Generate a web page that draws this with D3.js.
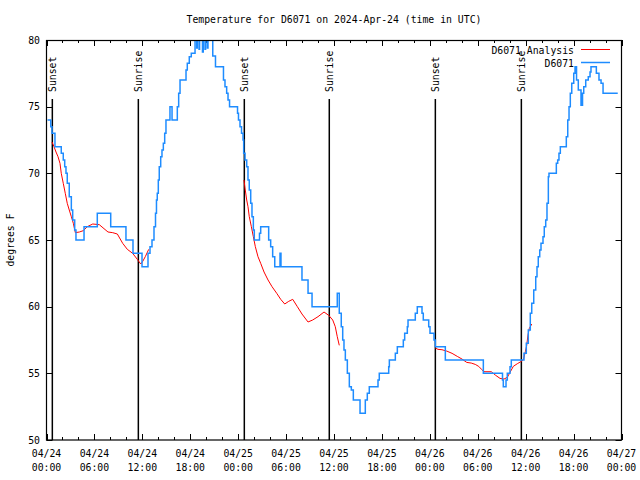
<!DOCTYPE html>
<html><head><meta charset="utf-8">
<script src="https://cdn.jsdelivr.net/npm/d3@7"></script>
<style>
html,body{margin:0;padding:0;background:#fff;}
text{font-family:"DejaVu Sans Mono",monospace;font-size:9.8px;fill:#000;}
</style></head>
<body><svg id="c" width="640" height="480"></svg>
<script>
// hours since 2024-04-24 00:00 UTC
const obsHours = [0.13,0.53,0.69,1.06,1.85,2.10,2.28,2.44,2.60,2.85,3.11,3.28,3.53,3.69,4.70,6.36,8.04,9.95,10.83,11.96,12.71,12.96,13.21,13.46,13.65,13.77,13.87,14.00,14.12,14.30,14.46,14.63,14.80,14.96,15.46,15.72,16.38,16.55,16.72,17.47,17.63,17.88,18.13,18.60,18.81,18.88,19.10,19.17,19.53,19.63,19.85,19.92,20.14,20.22,20.82,21.16,22.16,22.35,22.56,22.73,22.92,23.92,24.04,24.23,24.42,24.61,24.69,24.86,25.07,25.23,25.39,25.57,25.73,25.90,26.02,26.67,26.82,27.82,28.07,28.32,28.58,29.24,29.36,31.99,32.75,33.25,36.41,36.66,36.91,37.09,37.25,37.42,37.67,37.92,38.17,38.42,39.26,39.92,40.17,40.42,41.51,41.67,42.85,42.93,43.68,43.93,44.68,44.85,45.18,45.27,46.18,46.43,47.02,47.18,47.86,48.02,48.52,48.69,49.94,54.70,57.10,57.20,57.54,57.70,58.04,58.20,59.79,60.08,60.33,60.58,60.76,61.01,61.26,61.42,61.58,61.76,61.92,62.17,62.33,62.51,62.67,62.84,62.92,63.84,64.01,64.17,64.34,65.09,65.27,65.43,65.59,65.77,66.02,66.18,66.37,66.59,66.93,67.12,67.27,67.52,67.84,68.06,68.18,68.85,69.18,69.44,69.69,71.53];
const obsTemps = [74,73.5,73,72,71.5,71,70.5,70,69.25,68.25,67.25,66.5,65.75,65,66,67,66,65,64,63,64,64.5,65,66,67,68,68.5,69.5,70.5,71.25,71.75,72.25,73,74,75,74,75,76,77,77.75,78.25,78.75,79,81,79.4,81,79.3,81,79.1,81,79.3,81,79.4,81,78.8,78,77,76.5,76,75.5,75,74.5,74,73.5,73,72.5,71.5,71,70.5,69.5,68.75,67.75,66.75,65.75,65,65.5,66,65,64.5,63.75,63,64,63,62,61,60,61,59.5,58.5,57.5,56.75,56,55,54,53.75,53,52,53,53.5,54,54.5,55,55.5,56,56.5,57,57.5,58,58.5,59,59.5,60,59.5,59,58.5,58,57.5,57,56,55,54.5,54,54.5,55,55.5,56,56.5,57.25,58.25,59.5,60.25,61.25,62.25,63,63.75,64.25,64.75,65.25,66,66.5,67.75,69.75,70,70.75,71,71.5,72,72.75,74,75,76,76.75,77.5,78,77,76.25,75.1,76,76.5,77,77.25,77.6,78,77.5,77,76.75,76,76];

// analysis series, null separates segments
const anaHours = [0.69,0.94,1.19,1.44,1.69,1.85,2.10,2.35,2.60,2.85,3.11,3.36,3.61,4.11,4.61,5.11,5.79,6.61,7.20,7.70,8.29,8.87,9.54,10.12,10.79,11.37,11.80,12.05,12.37,12.80,null,
 24.73,24.89,25.07,25.23,25.39,25.65,25.90,26.15,26.48,26.82,27.24,27.74,28.24,28.83,29.33,29.83,30.33,30.83,31.41,31.99,32.75,33.33,34.00,34.75,35.34,35.84,36.16,36.41,36.66,null,
 48.69,49.02,49.52,50.11,50.78,51.44,52.03,52.62,53.19,53.69,54.12,54.53,54.78,55.70,56.20,56.79,57.29,57.70,58.04,58.45,58.95,59.38,59.71,59.96,60.13,60.29,60.46,60.76];
const anaTemps = [72.35,72,71.6,71.25,70.75,70,69.25,68.5,67.75,67.25,66.75,66.25,65.55,65.6,65.7,66.0,66.2,66.15,65.85,65.6,65.55,65.45,64.75,64.3,64.0,63.55,63.2,63.4,63.75,64.3,null,
 69.5,68.75,68,67.5,66.75,66,65.25,64.5,63.75,63.25,62.6,62,61.5,61,60.55,60.2,60.4,60.55,60,59.45,58.85,59.0,59.25,59.6,59.35,59,58.5,57.75,57.1,null,
 56.9,56.8,56.77,56.67,56.5,56.27,56.07,55.82,55.77,55.67,55.52,55.27,55.12,55.12,54.87,54.62,54.57,54.7,55.07,55.52,55.72,55.87,56.02,56.62,57.1,57.87,58.37,58.7];

const eventHours = [0.73,11.50,24.77,35.41,48.69,59.46];
const eventLabels = ["Sunset","Sunrise","Sunset","Sunrise","Sunset","Sunrise"];
const yTicks = [50,55,60,65,70,75,80];
const titleText = "Temperature for D6071 on 2024-Apr-24 (time in UTC)";
const yLabel = "degrees F";
const legendNames = ["D6071 Analysis","D6071"];
const colors = {ana:"#ff0000", obs:"#1e8cff"};

const t0 = Date.UTC(2024,3,24);
const toDate = h => new Date(t0 + h*3600000);
const L=46.5, R=621.5, T=40, B=440;
const svg = d3.select("#c");
const x = d3.scaleUtc().domain([toDate(0), toDate(72)]).range([L,R]);
const y = d3.scaleLinear().domain([50,80]).range([B,T]);

svg.append("defs").append("clipPath").attr("id","clip")
  .append("rect").attr("x",L).attr("y",T).attr("width",R-L).attr("height",B-T);

// ticks
const major = d3.utcHour.every(6).range(toDate(0), toDate(72.01));
const minor = d3.utcHour.every(2).range(toDate(0), toDate(72.01));
const g = svg.append("g").attr("stroke","#000").attr("stroke-width",1);
minor.forEach(d=>{
  const px = Math.round(x(d))+0.5;
  g.append("line").attr("x1",px).attr("x2",px).attr("y1",B).attr("y2",B-3);
  g.append("line").attr("x1",px).attr("x2",px).attr("y1",T).attr("y2",T+3);
});
major.forEach(d=>{
  const px = Math.round(x(d))+0.5;
  g.append("line").attr("x1",px).attr("x2",px).attr("y1",B).attr("y2",B-6);
  g.append("line").attr("x1",px).attr("x2",px).attr("y1",T).attr("y2",T+6);
});
yTicks.forEach(v=>{
  const py = Math.round(y(v))+0.5;
  g.append("line").attr("x1",L).attr("x2",L+6).attr("y1",py).attr("y2",py);
  g.append("line").attr("x1",R).attr("x2",R-6).attr("y1",py).attr("y2",py);
});

// tick labels
const fmtD = d3.utcFormat("%m/%d"), fmtT = d3.utcFormat("%H:%M");
major.forEach(d=>{
  const t = svg.append("text").attr("x",x(d)).attr("text-anchor","middle");
  t.append("tspan").attr("x",x(d)).attr("y",457).text(fmtD(d));
  t.append("tspan").attr("x",x(d)).attr("y",471).text(fmtT(d));
});
yTicks.forEach(v=>{
  svg.append("text").attr("x",40).attr("y",y(v)+3.5).attr("text-anchor","end").text(v);
});

// sunrise / sunset
eventHours.forEach((h,i)=>{
  const px = x(toDate(h));
  svg.append("line").attr("x1",px).attr("x2",px).attr("y1",99).attr("y2",B)
    .attr("stroke","#000").attr("stroke-width",1.5);
  svg.append("text").attr("transform",`translate(${px+4},92) rotate(-90)`)
    .attr("text-anchor","start").text(eventLabels[i]);
});

// series
const obs = obsHours.map((h,i)=>({d:toDate(h), v:obsTemps[i]}));
const ana = anaHours.map((h,i)=>({d:h==null?null:toDate(h), v:anaTemps[i]}));
svg.append("path").datum(ana).attr("clip-path","url(#clip)")
  .attr("fill","none").attr("stroke",colors.ana).attr("stroke-width",1)
  .attr("d", d3.line().defined(p=>p.v!=null).x(p=>x(p.d)).y(p=>y(p.v)));
svg.append("path").datum(obs).attr("clip-path","url(#clip)")
  .attr("fill","none").attr("stroke",colors.obs).attr("stroke-width",1.5)
  .attr("d", d3.line().curve(d3.curveStepAfter).x(p=>x(p.d)).y(p=>y(p.v)));

// frame
svg.append("rect").attr("x",L).attr("y",T+0.5).attr("width",R-L).attr("height",B-T-0.5)
  .attr("fill","none").attr("stroke","#000").attr("stroke-width",1.2);

// title & y label
svg.append("text").attr("x",(L+R)/2).attr("y",23).attr("text-anchor","middle").text(titleText);
svg.append("text").attr("transform","translate(14,240) rotate(-90)").attr("text-anchor","middle").text(yLabel);

// legend
[[legendNames[0],colors.ana,50],[legendNames[1],colors.obs,63]].forEach(([n,c,yy])=>{
  svg.append("text").attr("x",574).attr("y",yy+3.5).attr("text-anchor","end").text(n);
  svg.append("line").attr("x1",581).attr("x2",610).attr("y1",yy-0.5).attr("y2",yy-0.5)
    .attr("stroke",c).attr("stroke-width",c===colors.obs?1.5:1);
});
</script></body></html>
